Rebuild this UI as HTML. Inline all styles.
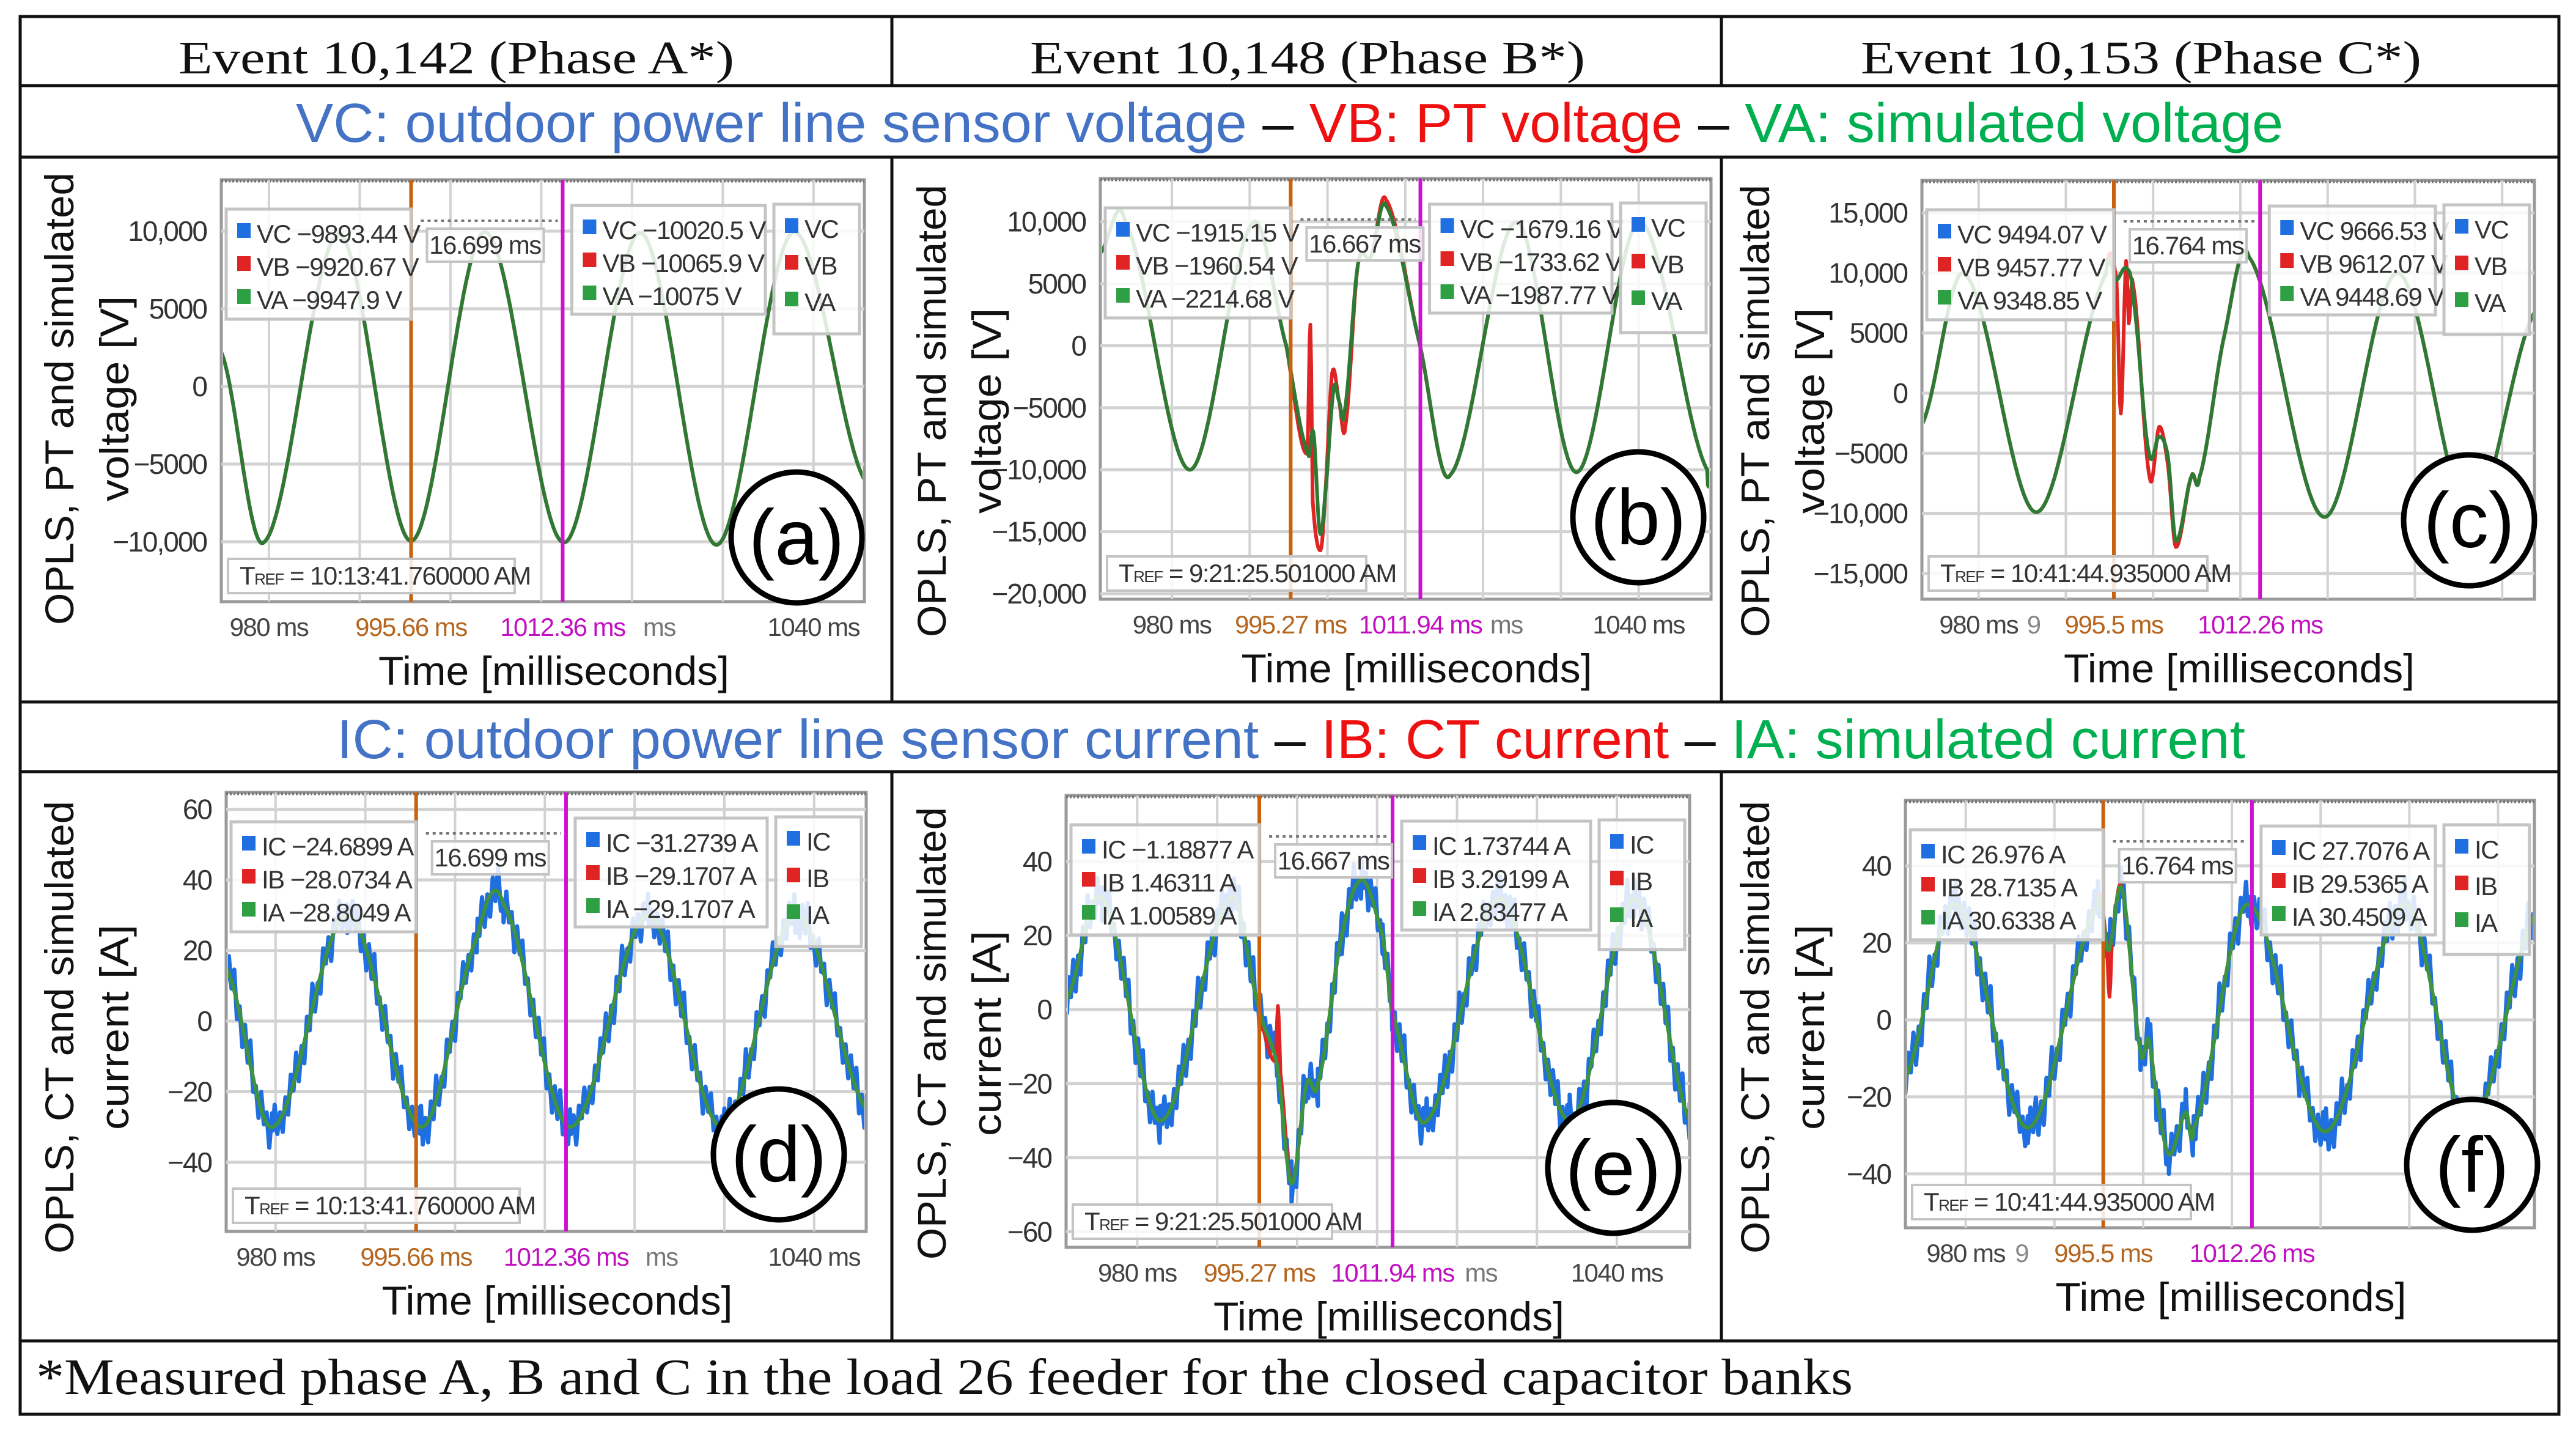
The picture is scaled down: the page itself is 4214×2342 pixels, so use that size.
<!DOCTYPE html>
<html><head><meta charset="utf-8"><style>
html,body{margin:0;padding:0;background:#fff}
svg{display:block}
</style></head><body>
<svg id="fig" width="4214" height="2342" viewBox="0 0 4214 2342" xmlns="http://www.w3.org/2000/svg" font-family="Liberation Sans, sans-serif">
<rect x="0" y="0" width="4214" height="2342" fill="#fff"/>
<g stroke="#111" stroke-width="5" fill="none">
<rect x="33" y="27" width="4153" height="2286"/>
<line x1="33" y1="140" x2="4186" y2="140"/>
<line x1="33" y1="257" x2="4186" y2="257"/>
<line x1="33" y1="1148" x2="4186" y2="1148"/>
<line x1="33" y1="1262" x2="4186" y2="1262"/>
<line x1="33" y1="2193" x2="4186" y2="2193"/>
<line x1="1459" y1="27" x2="1459" y2="140"/>
<line x1="2816" y1="27" x2="2816" y2="140"/>
<line x1="1459" y1="257" x2="1459" y2="1148"/>
<line x1="2816" y1="257" x2="2816" y2="1148"/>
<line x1="1459" y1="1262" x2="1459" y2="2193"/>
<line x1="2816" y1="1262" x2="2816" y2="2193"/>
</g>
<g font-family="Liberation Serif, serif" font-size="76" fill="#111">
<text x="292" y="120" textLength="909" lengthAdjust="spacingAndGlyphs">Event 10,142 (Phase A*)</text>
<text x="1685" y="120" textLength="908" lengthAdjust="spacingAndGlyphs">Event 10,148 (Phase B*)</text>
<text x="3044" y="120" textLength="917" lengthAdjust="spacingAndGlyphs">Event 10,153 (Phase C*)</text>
</g>
<text x="484" y="232" font-size="90" textLength="3251" lengthAdjust="spacingAndGlyphs"><tspan fill="#4472c4">VC: outdoor power line sensor voltage</tspan><tspan fill="#111"> – </tspan><tspan fill="#ee1111">VB: PT voltage</tspan><tspan fill="#111"> – </tspan><tspan fill="#00b050">VA: simulated voltage</tspan></text>
<text x="551" y="1240" font-size="90" textLength="3122" lengthAdjust="spacingAndGlyphs"><tspan fill="#4472c4">IC: outdoor power line sensor current</tspan><tspan fill="#111"> – </tspan><tspan fill="#ee1111">IB: CT current</tspan><tspan fill="#111"> – </tspan><tspan fill="#00b050">IA: simulated current</tspan></text>
<text x="59" y="2280" font-family="Liberation Serif, serif" font-size="84" fill="#111" textLength="2972" lengthAdjust="spacingAndGlyphs">*Measured phase A, B and C in the load 26 feeder for the closed capacitor banks</text>
<g id="panels"></g>
</svg>
<script>
// ---------- data ----------
const gridTimes=[970,980,990,1000,1010,1020,1030,1040];
const icRipple=[3,-4,5,-2,6,-5,2,-6,4,-3,7,-4,1,-5,5,-2,3,-6,4,-1,6,-3,2,-5];

// (a) voltage, phase A
const aTimes=[974.75,979.5,987.7,995.66,1003.8,1012.5,1020.9,1029.3,1037.7,1045.6];
const aVA=[2200,-10000,9800,-9950,9950,-10050,9900,-10200,9900,-6000];
const aYTicks=[10000,5000,0,-5000,-10000];
const aYLabels=["10,000","5000","0","−5000","−10,000"];
const aCursors=[995.66,1012.36];
const aXTicks=[980,995.66,1012.36,1023,1040];
const aXLabels=["980 ms","995.66 ms","1012.36 ms","ms","1040 ms"];
const aLeftVals=["VC −9893.44 V","VB −9920.67 V","VA −9947.9 V"];
const aRightVals=["VC −10020.5 V","VB −10065.9 V","VA −10075 V"];

// (b) voltage, phase B
const bTimes=[970.8,974.0,982.3,990.3,994.7,997.5,998.2,999.0,999.7,1000.8,1001.5,1002.2,1003.9,1005.6,1007.5,1011.9,1015.8,1024.3,1032.0,1040.1,1048.8,1049.3];
const bVA=[7500,10000,-10000,9800,0,-8700,-7000,-15000,-12000,-3500,-4500,-5300,6500,7200,11300,0,-10400,10000,-10200,10000,-10000,-9800];
const bRedTimes=[970.8,974.0,982.3,990.3,994.7,997.4,997.8,998.1,999.1,999.7,1000.6,1001.5,1002.3,1003.9,1005.6,1007.5,1011.9,1015.8,1024.3,1032.0,1040.1,1048.8,1049.3];
const bVB=[7500,10000,-10000,9800,0,-8700,1700,-12500,-16500,-12000,-2200,-4500,-6500,6500,7200,11800,0,-10400,10000,-10200,10000,-10000,-9800];
const bYTicks=[10000,5000,0,-5000,-10000,-15000,-20000];
const bYLabels=["10,000","5000","0","−5000","−10,000","−15,000","−20,000"];
const bCursors=[995.27,1011.94];
const bXTicks=[980,995.27,1011.94,1023,1040];
const bXLabels=["980 ms","995.27 ms","1011.94 ms","ms","1040 ms"];
const bLeftVals=["VC −1915.15 V","VB −1960.54 V","VA −2214.68 V"];
const bRightVals=["VC −1679.16 V","VB −1733.62 V","VA −1987.77 V"];

// (c) voltage, phase C
const cTimes=[973.5,978.4,986.6,994.6,995.8,996.9,997.7,999.5,1000.7,1001.7,1002.6,1004.4,1005.3,1008.1,1011.0,1019.6,1028.0,1036.3,1043.7];
const cVA=[-2600,9900,-9900,9900,9400,10400,8000,-4900,-3600,-5300,-12300,-6900,-7000,4600,11300,-10300,10000,-10300,6700];
const cRedTimes=[973.5,978.4,986.6,994.6,995.8,996.3,996.9,997.2,997.7,999.6,1000.7,1001.7,1002.6,1004.4,1005.3,1008.1,1011.0,1019.6,1028.0,1036.3,1043.7];
const cVB=[-2600,9900,-9900,9900,9400,-1700,11000,5800,9000,-7000,-2800,-6000,-12800,-6900,-7000,4600,11300,-10300,10000,-10300,6700];
const cYTicks=[15000,10000,5000,0,-5000,-10000,-15000];
const cYLabels=["15,000","10,000","5000","0","−5000","−10,000","−15,000"];
const cCursors=[995.5,1012.26];
const cXTicks=[980,986.3,995.5,1012.26];
const cXLabels=["980 ms","9","995.5 ms","1012.26 ms"];
const cLeftVals=["VC  9494.07 V","VB  9457.77 V","VA  9348.85 V"];
const cRightVals=["VC  9666.53 V","VB  9612.07 V","VA  9448.69 V"];

// (d) current, phase A
const dTimes=[974.5,979.7,988.0,996.2,1002.5,1005.4,1012.8,1021.5,1029.7,1037.9,1045.8];
const dIA=[15,-30,30,-30,24,33,-30,30,-30,30,-25];
const dYTicks=[60,40,20,0,-20,-40];
const dYLabels=["60","40","20","0","−20","−40"];
const dCursors=[995.66,1012.36];
const dXTicks=[980,995.66,1012.36,1023,1040];
const dXLabels=["980 ms","995.66 ms","1012.36 ms","ms","1040 ms"];
const dLeftVals=["IC −24.6899 A","IB −28.0734 A","IA −28.8049 A"];
const dRightVals=["IC −31.2739 A","IB −29.1707 A","IA −29.1707 A"];

// (e) current, phase B
const eTimes=[971.2,975.6,982.9,991.6,995.3,997.5,999.3,1001.2,1002.6,1005.6,1008.1,1010.7,1011.8,1016.2,1025.3,1034.1,1042.2,1049.1];
const eIA=[3,30,-30,30,0,-15,-47,-20,-20,20,35,20,0,-30,30,-30,30,-30];
const eRedTimes=[971.2,975.6,982.9,991.6,995.3,997.3,997.6,997.9,999.3,1001.2,1002.6,1005.6,1008.1,1010.7,1011.8,1016.2,1025.3,1034.1,1042.2,1049.1];
const eIB=[3,30,-30,30,0,-14,1,-17,-47,-20,-20,20,35,20,0,-30,30,-30,30,-30];
const eYTicks=[40,20,0,-20,-40,-60];
const eYLabels=["40","20","0","−20","−40","−60"];
const eCursors=[995.27,1011.94];
const eXTicks=[980,995.27,1011.94,1023,1040];
const eXLabels=["980 ms","995.27 ms","1011.94 ms","ms","1040 ms"];
const eLeftVals=["IC −1.18877 A","IB  1.46311 A","IA  1.00589 A"];
const eRightVals=["IC  1.73744 A","IB  3.29199 A","IA  2.83477 A"];

// (f) current, phase C
const fTimes=[973.2,978.9,987.0,994.9,996.1,997.6,999.7,1000.6,1001.5,1002.9,1004.8,1005.7,1011.8,1020.5,1029.5,1036.7,1044.1];
const fIA=[-15,30,-28,30,18,34,-8,-5,-20,-35,-24,-28,30,-29,30,-28,27];
const fRedTimes=[973.2,978.9,987.0,994.9,995.9,996.2,996.5,997.6,999.7,1000.6,1001.5,1002.9,1004.8,1005.7,1011.8,1020.5,1029.5,1036.7,1044.1];
const fIB=[-15,30,-28,30,20,6,22,34,-8,-5,-20,-35,-24,-28,30,-29,30,-28,27];
const fYTicks=[40,20,0,-20,-40];
const fYLabels=["40","20","0","−20","−40"];
const fCursors=[995.5,1012.26];
const fXTicks=[980,986.3,995.5,1012.26];
const fXLabels=["980 ms","9","995.5 ms","1012.26 ms"];
const fLeftVals=["IC  26.976 A","IB  28.7135 A","IA  30.6338 A"];
const fRightVals=["IC  27.7076 A","IB  29.5365 A","IA  30.4509 A"];

// ---------- drawing ----------
const NS='http://www.w3.org/2000/svg';
const root=document.getElementById('panels');
function mk(tag,attrs,parent){const e=document.createElementNS(NS,tag);for(const k in attrs)e.setAttribute(k,attrs[k]);(parent||root).appendChild(e);return e;}

function valAt(T,V,t){
  const n=T.length;
  if(t<=T[0])return V[0];
  if(t>=T[n-1])return V[n-1];
  let i=0;while(i<n-2&&t>T[i+1])i++;
  const u=(t-T[i])/(T[i+1]-T[i]);
  const p0=V[Math.max(i-1,0)],p1=V[i],p2=V[i+1],p3=V[Math.min(i+2,n-1)];
  const m1=(p2-p0)/2,m2=(p3-p1)/2;
  const u2=u*u,u3=u2*u;
  return (2*u3-3*u2+1)*p1+(u3-2*u2+u)*m1+(-2*u3+3*u2)*p2+(u3-u2)*m2;
}
function samples(T,tL,tR,step){
  const s=[];for(let t=tL;t<=tR+1e-9;t+=step)s.push(t);
  T.forEach(t=>{if(t>=tL&&t<=tR)s.push(t);});
  s.sort((a,b)=>a-b);return s;
}

function panel(p){
  const g=mk('g',{});
  
  
  const sx=t=>p.x0+(t-p.tL)/(p.tR-p.tL)*(p.x1-p.x0);
  const sy=v=>p.y0+(p.vTop-v)/(p.vTop-p.vBot)*(p.y1-p.y0);
  const W=p.x1-p.x0,H=p.y1-p.y0;

  const fr=mk('rect',{x:p.x0,y:p.y0,width:W,height:H,fill:'#fff',stroke:'#9a9a9a','stroke-width':5},g);
  
  
  const top=mk('line',{x1:p.x0,y1:p.y0+2,x2:p.x1,y2:p.y0+2,stroke:'#777','stroke-width':5,'stroke-dasharray':'3 3'},g);
  
  

  const cp=mk('clipPath',{id:'clip-'+p.id},g);
  
  
  const cr=mk('rect',{x:p.x0+3,y:p.y0+3,width:W-6,height:H-6},cp);
  
  

  p.yTicks.forEach((v,i)=>{
    const y=sy(v);
    const gl=mk('line',{x1:p.x0,y1:y,x2:p.x1,y2:y,stroke:'#d2d2d2','stroke-width':5},g);
    
    
    const tl=mk('text',{x:p.x0-24,y:y+16,'text-anchor':'end','font-size':46,fill:'#333','letter-spacing':-2},g);
    
    
    tl.textContent=p.yLabels[i];
  });
  gridTimes.forEach(t=>{
    const x=sx(t);if(x<p.x0+5||x>p.x1-5)return;
    const gl=mk('line',{x1:x,y1:p.y0,x2:x,y2:p.y1,stroke:'#d2d2d2','stroke-width':4},g);
    
    
  });

  const series=mk('g',{'clip-path':'url(#clip-'+p.id+')'},g);
  
  
  function path(T,V,step,ripple,color,w,name){
    const ts=samples(T,p.tL,p.tR,step);
    let d='';
    ts.forEach((t,k)=>{let v=valAt(T,V,t);if(ripple)v+=ripple[k%ripple.length]*p.rippleScale;d+=(k?'L':'M')+sx(t).toFixed(1)+' '+sy(v).toFixed(1);});
    const pe=mk('path',{d:d,fill:'none',stroke:color,'stroke-width':w,'stroke-linejoin':'round'},series);
    
    
  }
  if(p.current){
    path(p.T,p.V,0.3,icRipple,'#1f6fe0',7,'series-ic-'+p.id);
  }
  path(p.RT||p.T,p.RV||p.V,0.1,null,'#e02424',6,'series-red-'+p.id);
  path(p.T,p.V,0.1,null,p.current?'#3a9440':'#2e7a34',p.current?6:6,'series-green-'+p.id);

  const ox=sx(p.cursors[0]),mx=sx(p.cursors[1]);
  const c1=mk('line',{x1:ox,y1:p.y0,x2:ox,y2:p.y1,stroke:'#c8620f','stroke-width':6},g);
  
  
  const c2=mk('line',{x1:mx,y1:p.y0,x2:mx,y2:p.y1,stroke:'#d010d0','stroke-width':6},g);
  
  

  const colors=['#1f6fe0','#e02424','#2ea043'];
  function box(x,y,w,h,rows,name,dy){
    const b=mk('rect',{x:x,y:y,width:w,height:h,fill:'#fff','fill-opacity':0.85,stroke:'#c4c4c4','stroke-width':5},g);
    
    
    rows.forEach((r,i)=>{
      const yy=y+55+i*dy;
      const sq=mk('rect',{x:x+18,y:yy-32,width:22,height:24,fill:colors[i]},g);
      
      
      const t=mk('text',{x:x+50,y:yy,'font-size':42,fill:'#333','letter-spacing':-1.5,'xml:space':'preserve'},g);
      
      
      t.textContent=r;
    });
  }
  const lw=ox-p.x0-8;
  box(p.x0+8,p.y0+48,lw,180,p.leftVals,'cursor-1-readout-'+p.id,54);
  const lgx=p.x1-148;
  box(mx+15,p.y0+42,lgx-mx-29,178,p.rightVals,'cursor-2-readout-'+p.id,54);
  box(lgx,p.y0+40,140,212,p.names,'legend-'+p.id,60);

  const dl=mk('line',{x1:ox+16,y1:p.y0+67,x2:mx-8,y2:p.y0+67,stroke:'#777','stroke-width':4,'stroke-dasharray':'5 6'},g);
  
  
  const db=mk('rect',{x:ox+26,y:p.y0+80,width:191,height:54,fill:'#fff','fill-opacity':0.85,stroke:'#c4c4c4','stroke-width':4},g);
  
  
  const dt=mk('text',{x:ox+121,y:p.y0+121,'text-anchor':'middle','font-size':42,fill:'#333','letter-spacing':-1.5},g);
  
  
  dt.textContent=p.delta;

  const tb=mk('rect',{x:p.x0+11,y:p.y1-70,width:p.trefW,height:56,fill:'#fff','fill-opacity':0.85,stroke:'#c4c4c4','stroke-width':4},g);
  
  
  const tt=mk('text',{x:p.x0+30,y:p.y1-28,'font-size':42,fill:'#333','letter-spacing':-1.5},g);
  
  
  tt.innerHTML='T<tspan font-size="26">REF</tspan> = '+p.tref;

  const ci=mk('circle',{cx:p.cx,cy:p.cy,r:107,fill:'#fff',stroke:'#000','stroke-width':9},g);
  
  
  const ct=mk('text',{x:p.cx,y:p.cy+44,'text-anchor':'middle','font-size':128,fill:'#000'},g);
  
  
  ct.textContent='('+p.id+')';

  const xcol=['#444','#b5651d','#c010c0','#777','#444'];
  p.xTicks.forEach((t,i)=>{
    let col=xcol[i];
    if(p.xLabels[i]==='9')col='#666';
    if(p.xTicks.length===4)col=['#444','#888','#b5651d','#c010c0'][i];
    const xl=mk('text',{x:sx(t),y:p.y1+56,'text-anchor':'middle','font-size':42,fill:col,'letter-spacing':-1.5},g);
    
    
    xl.textContent=p.xLabels[i];
  });

  const xt=mk('text',{x:(p.x0+p.x1)/2+18,y:p.y1+136,'text-anchor':'middle','font-size':66,fill:'#111',textLength:574,lengthAdjust:'spacingAndGlyphs'},g);
  
  
  xt.textContent='Time [milliseconds]';

  const y1=mk('text',{x:0,y:0,'text-anchor':'middle','font-size':66,fill:'#111',textLength:740,lengthAdjust:'spacingAndGlyphs',transform:'translate('+(p.colX+88)+','+p.ylc+') rotate(-90)'},g);
  
  
  y1.textContent=p.yl1;
  const y2=mk('text',{x:0,y:0,'text-anchor':'middle','font-size':66,fill:'#111',textLength:336,lengthAdjust:'spacingAndGlyphs',transform:'translate('+(p.colX+178)+','+p.ylc+') rotate(-90)'},g);
  
  
  y2.textContent=p.yl2;
}

const VN=['VC','VB','VA'],IN=['IC','IB','IA'];
panel({id:'a',x0:362,y0:294,x1:1414,y1:984,tL:974.75,tR:1045.6,vTop:13307,vBot:-13858,T:aTimes,V:aVA,yTicks:aYTicks,yLabels:aYLabels,cursors:aCursors,xTicks:aXTicks,xLabels:aXLabels,leftVals:aLeftVals,rightVals:aRightVals,names:VN,delta:'16.699 ms',tref:'10:13:41.760000 AM',trefW:469,cx:1303,cy:879,colX:32,ylc:652,yl1:'OPLS, PT and simulated',yl2:'voltage [V]'});
panel({id:'b',x0:1800,y0:292,x1:2799,y1:980,tL:970.8,tR:1049.3,vTop:13480,vBot:-20441,T:bTimes,V:bVA,RT:bRedTimes,RV:bVB,yTicks:bYTicks,yLabels:bYLabels,cursors:bCursors,xTicks:bXTicks,xLabels:bXLabels,leftVals:bLeftVals,rightVals:bRightVals,names:VN,delta:'16.667 ms',tref:'9:21:25.501000 AM',trefW:424,cx:2680,cy:846,colX:1459,ylc:672,yl1:'OPLS, PT and simulated',yl2:'voltage [V]'});
panel({id:'c',x0:3144,y0:295,x1:4146,y1:980,tL:973.5,tR:1043.7,vTop:17700,vBot:-17142,T:cTimes,V:cVA,RT:cRedTimes,RV:cVB,yTicks:cYTicks,yLabels:cYLabels,cursors:cCursors,xTicks:cXTicks,xLabels:cXLabels,leftVals:cLeftVals,rightVals:cRightVals,names:VN,delta:'16.764 ms',tref:'10:41:44.935000 AM',trefW:456,cx:4039,cy:851,colX:2806,ylc:672,yl1:'OPLS, PT and simulated',yl2:'voltage [V]'});
panel({id:'d',current:true,rippleScale:1,x0:370,y0:1296,x1:1417,y1:2014,tL:974.5,tR:1045.8,vTop:64.8,vBot:-59.6,T:dTimes,V:dIA,yTicks:dYTicks,yLabels:dYLabels,cursors:dCursors,xTicks:dXTicks,xLabels:dXLabels,leftVals:dLeftVals,rightVals:dRightVals,names:IN,delta:'16.699 ms',tref:'10:13:41.760000 AM',trefW:469,cx:1274,cy:1888,colX:32,ylc:1680,yl1:'OPLS, CT and simulated',yl2:'current [A]'});
panel({id:'e',current:true,rippleScale:1,x0:1744,y0:1301,x1:2764,y1:2040,tL:971.1,tR:1049.1,vTop:57.8,vBot:-64.2,T:eTimes,V:eIA,RT:eRedTimes,RV:eIB,yTicks:eYTicks,yLabels:eYLabels,cursors:eCursors,xTicks:eXTicks,xLabels:eXLabels,leftVals:eLeftVals,rightVals:eRightVals,names:IN,delta:'16.667 ms',tref:'9:21:25.501000 AM',trefW:424,cx:2639,cy:1910,colX:1459,ylc:1690,yl1:'OPLS, CT and simulated',yl2:'current [A]'});
panel({id:'f',current:true,rippleScale:1,x0:3117,y0:1309,x1:4146,y1:2008,tL:973.2,tR:1044.1,vTop:57,vBot:-54,T:fTimes,V:fIA,RT:fRedTimes,RV:fIB,yTicks:fYTicks,yLabels:fYLabels,cursors:fCursors,xTicks:fXTicks,xLabels:fXLabels,leftVals:fLeftVals,rightVals:fRightVals,names:IN,delta:'16.764 ms',tref:'10:41:44.935000 AM',trefW:456,cx:4044,cy:1905,colX:2806,ylc:1680,yl1:'OPLS, CT and simulated',yl2:'current [A]'});
</script>
</body></html>
